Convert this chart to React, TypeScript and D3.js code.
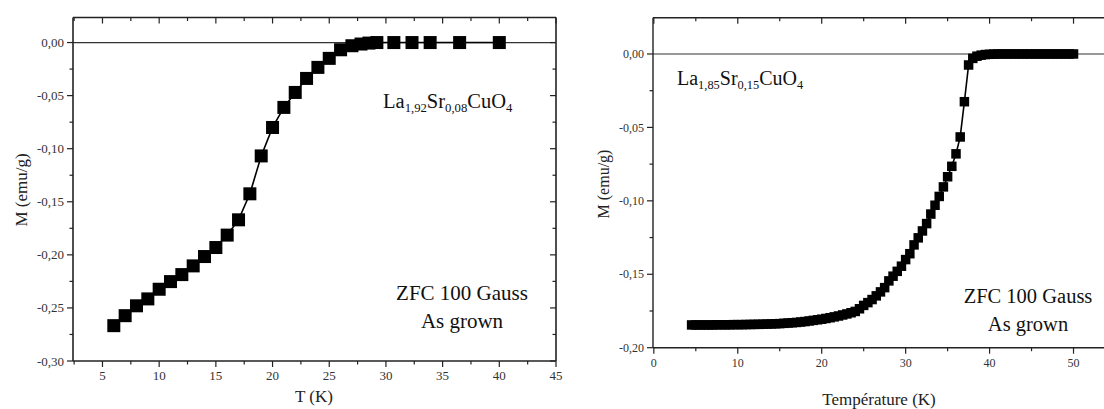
import React from "react";
import * as d3 from "d3";

// ---- Left panel data: La1.92Sr0.08CuO4 ----
const leftT = [6, 7, 8, 9, 10, 11, 12, 13, 14, 15, 16, 17, 18, 19, 20, 21, 22, 23, 24, 25, 26, 27, 27.8, 28.5, 29.2, 30.7, 32.3, 33.9, 36.5, 40];
const leftM = [-0.2667, -0.2573, -0.248, -0.2415, -0.2324, -0.2252, -0.2186, -0.2104, -0.2016, -0.1931, -0.1814, -0.167, -0.1425, -0.1068, -0.08, -0.0611, -0.047, -0.0338, -0.0234, -0.0149, -0.0068, -0.003, -0.0014, -0.0005, 0, 0, 0, 0, 0, 0];
const leftXTicks = [5, 10, 15, 20, 25, 30, 35, 40, 45];
const leftYTicks = [0, -0.05, -0.1, -0.15, -0.2, -0.25, -0.3];

// ---- Right panel data: La1.85Sr0.15CuO4 ----
const rightT = [4.5, 5, 5.5, 6, 6.5, 7, 7.5, 8, 8.5, 9, 9.5, 10, 10.5, 11, 11.5, 12, 12.5, 13, 13.5, 14, 14.5, 15, 15.5, 16, 16.5, 17, 17.5, 18, 18.5, 19, 19.5, 20, 20.5, 21, 21.5, 22, 22.5, 23, 23.5, 24, 24.5, 25, 25.5, 26, 26.5, 27, 27.5, 28, 28.5, 29, 29.5, 30, 30.5, 31, 31.5, 32, 32.5, 33, 33.5, 34, 34.5, 35, 35.5, 36, 36.5, 37, 37.5, 38, 38.5, 39, 39.5, 40, 40.5, 41, 41.5, 42, 42.5, 43, 43.5, 44, 44.5, 45, 45.5, 46, 46.5, 47, 47.5, 48, 48.5, 49, 49.5, 50];
const rightM = [-0.1845, -0.1845, -0.1845, -0.1845, -0.1845, -0.1845, -0.1844, -0.1844, -0.1844, -0.1844, -0.1843, -0.1843, -0.1843, -0.1842, -0.1842, -0.1841, -0.1841, -0.184, -0.1839, -0.1838, -0.1837, -0.1836, -0.1834, -0.1832, -0.183, -0.1828, -0.1825, -0.1822, -0.1818, -0.1814, -0.181, -0.1806, -0.1801, -0.1796, -0.179, -0.1784, -0.1777, -0.177, -0.1762, -0.1753, -0.1735, -0.1712, -0.1693, -0.1672, -0.1647, -0.162, -0.1591, -0.1545, -0.1513, -0.148, -0.1445, -0.14, -0.136, -0.13, -0.1252, -0.1205, -0.1155, -0.109, -0.103, -0.097, -0.0905, -0.0836, -0.0765, -0.068, -0.0565, -0.0325, -0.0075, -0.003, -0.0015, -0.0008, -0.0004, -0.0002, -0.0001, 0, 0, 0, 0, 0, 0, 0, 0, 0, 0, 0, 0, 0, 0, 0, 0, 0, 0, 0];
const rightXTicks = [0, 10, 20, 30, 40, 50];
const rightYTicks = [0, -0.05, -0.1, -0.15, -0.2];

const FONT = "Liberation Serif, Tinos, Times New Roman, DejaVu Serif, serif";
const AX = "#222";

const fmtY = (v: number) => (v === 0 ? "0,00" : d3.format(".2f")(v).replace(".", ",").replace("−", "-"));

type PanelProps = {
  T: number[];
  M: number[];
  xDomain: [number, number];
  xRange: [number, number];
  yDomain: [number, number];
  yRange: [number, number];
  xTicks: number[];
  xMinor: number;
  yTicks: number[];
  yMinor: number;
  sq: number;
  tickFont: number;
  axisW: number;
  showRight: boolean;
};

const tf = (size: number) => ({ fontFamily: FONT, fontSize: size + "px" });

function Panel(p: PanelProps) {
  const x = d3.scaleLinear().domain(p.xDomain).range(p.xRange);
  const y = d3.scaleLinear().domain(p.yDomain).range(p.yRange);
  const [x0, x1] = p.xRange;
  const [yb, yt] = p.yRange;
  const pts = p.T.map((t, i) => [t, p.M[i]] as [number, number]);
  const line = d3.line<[number, number]>().x((d) => x(d[0])).y((d) => y(d[1]));
  const xMajor = p.xTicks.filter((t) => t >= p.xDomain[0] && t <= p.xDomain[1]);
  const xMinorT = d3.range(Math.ceil(p.xDomain[0] / p.xMinor) * p.xMinor, p.xDomain[1] + 1e-9, p.xMinor)
    .filter((v) => !xMajor.some((m) => Math.abs(m - v) < 1e-6));
  const yMinorT = d3.range(p.yDomain[0], p.yDomain[1] + 1e-9, p.yMinor)
    .filter((v) => !p.yTicks.some((m) => Math.abs(m - v) < 1e-6));
  const maj = 6, mn = 3.5;
  return (
    <g>
      <line x1={x0} x2={x1} y1={y(0)} y2={y(0)} stroke="#333" strokeWidth={1.2} />
      <line x1={x0} x2={x1} y1={yb} y2={yb} stroke={AX} strokeWidth={p.axisW} />
      <line x1={x0} x2={x1} y1={yt} y2={yt} stroke={AX} strokeWidth={p.axisW} />
      <line x1={x0} x2={x0} y1={yb} y2={yt} stroke={AX} strokeWidth={p.axisW} />
      {p.showRight && <line x1={x1} x2={x1} y1={yb} y2={yt} stroke={AX} strokeWidth={p.axisW} />}
      {xMajor.map((t) => (
        <g key={"xm" + t}>
          <line x1={x(t)} x2={x(t)} y1={yb} y2={yb + maj} stroke={AX} strokeWidth={1.2} />
          <line x1={x(t)} x2={x(t)} y1={yt} y2={yt + maj} stroke={AX} strokeWidth={1.2} />
          <text x={x(t)} y={yb + maj + 13} textAnchor="middle" style={tf(p.tickFont)} fill="#333">{t}</text>
        </g>
      ))}
      {xMinorT.map((t) => (
        <g key={"xn" + t}>
          <line x1={x(t)} x2={x(t)} y1={yb} y2={yb + mn} stroke={AX} strokeWidth={1.2} />
          <line x1={x(t)} x2={x(t)} y1={yt} y2={yt + mn} stroke={AX} strokeWidth={1.2} />
        </g>
      ))}
      {p.yTicks.map((v) => (
        <g key={"ym" + v}>
          <line x1={x0 - maj} x2={x0} y1={y(v)} y2={y(v)} stroke={AX} strokeWidth={1.2} />
          {p.showRight && <line x1={x1 - maj} x2={x1} y1={y(v)} y2={y(v)} stroke={AX} strokeWidth={1.2} />}
          <text x={x0 - maj - 3} y={y(v)} dy="0.35em" textAnchor="end" style={tf(p.tickFont)} fill="#333">{fmtY(v)}</text>
        </g>
      ))}
      {yMinorT.map((v) => (
        <g key={"yn" + v}>
          <line x1={x0 - mn} x2={x0} y1={y(v)} y2={y(v)} stroke={AX} strokeWidth={1.2} />
          {p.showRight && <line x1={x1 - mn} x2={x1} y1={y(v)} y2={y(v)} stroke={AX} strokeWidth={1.2} />}
        </g>
      ))}
      <path d={line(pts) || ""} fill="none" stroke="#000" strokeWidth={1.6} />
      {pts.map((d, i) => (
        <rect key={i} x={x(d[0]) - p.sq / 2} y={y(d[1]) - p.sq / 2} width={p.sq} height={p.sq} fill="#000" />
      ))}
    </g>
  );
}

function Formula({ x, y, a, b, size }: { x: number; y: number; a: string; b: string; size: number }) {
  const sub = size * 0.62;
  return (
    <text x={x} y={y} style={tf(size)} fill="#111">
      La<tspan style={{ fontSize: sub + "px" }} dy={4}>{a}</tspan>
      <tspan dy={-4}>Sr</tspan><tspan style={{ fontSize: sub + "px" }} dy={4}>{b}</tspan>
      <tspan dy={-4}>CuO</tspan><tspan style={{ fontSize: sub + "px" }} dy={4}>4</tspan>
    </text>
  );
}

export default function App() {
  return (
    <svg width={1104} height={409} style={{ position: "absolute", left: 0, top: 0, background: "#fff" }}>
      <rect width={1104} height={409} fill="#fff" />
      <Panel
        T={leftT} M={leftM}
        xDomain={[2.4, 45]} xRange={[73, 556]}
        yDomain={[-0.3, 0.0236]} yRange={[361, 17.5]}
        xTicks={leftXTicks} xMinor={2.5}
        yTicks={leftYTicks} yMinor={0.025}
        sq={13} tickFont={13} axisW={1.6} showRight={true}
      />
      <Panel
        T={rightT} M={rightM}
        xDomain={[-0.1, 55.3]} xRange={[653, 1118]}
        yDomain={[-0.2, 0.0247]} yRange={[347.7, 17.7]}
        xTicks={rightXTicks} xMinor={5}
        yTicks={rightYTicks} yMinor={0.025}
        sq={9.5} tickFont={12} axisW={1.4} showRight={false}
      />
      <text x={314} y={402} textAnchor="middle" style={tf(17)} fill="#222">T (K)</text>
      <text transform="translate(27,190) rotate(-90)" textAnchor="middle" style={tf(17)} fill="#222">M (emu/g)</text>
      <text x={879} y={405} textAnchor="middle" style={tf(17)} fill="#222">Température (K)</text>
      <text transform="translate(609,184) rotate(-90)" textAnchor="middle" style={tf(16)} fill="#222">M (emu/g)</text>
      <Formula x={383} y={108} a="1,92" b="0,08" size={20.5} />
      <Formula x={677} y={85} a="1,85" b="0,15" size={20} />
      <text x={462} y={300} textAnchor="middle" style={tf(21)} fill="#111">ZFC 100 Gauss</text>
      <text x={462} y={328} textAnchor="middle" style={tf(21)} fill="#111">As grown</text>
      <text x={1028} y={303} textAnchor="middle" style={tf(20.5)} fill="#111">ZFC 100 Gauss</text>
      <text x={1028} y={331} textAnchor="middle" style={tf(20.5)} fill="#111">As grown</text>
    </svg>
  );
}
